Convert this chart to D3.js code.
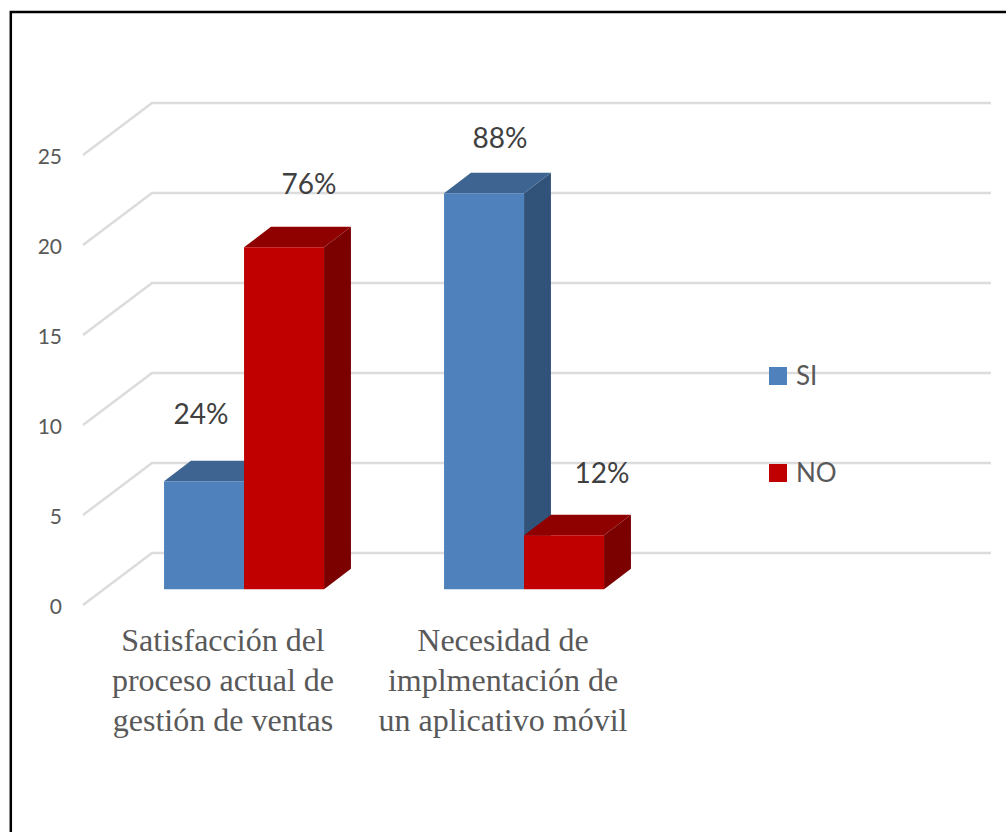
<!DOCTYPE html>
<html>
<head>
<meta charset="utf-8">
<script src="https://cdn.jsdelivr.net/npm/d3@7"></script>
<style>
  html, body { margin: 0; padding: 0; background: #fff; }
  svg { display: block; }
  .tick text { font-family: Lato, sans-serif; font-size: 21px; fill: #595959; }
  .cat-label { font-family: "Liberation Serif", serif; font-size: 32px; fill: #595959; text-anchor: middle; }
  .data-label { font-family: Lato, sans-serif; font-size: 28px; fill: #404040; text-anchor: middle; }
  .legend-label { font-family: Lato, sans-serif; font-size: 26px; fill: #595959; }
</style>
</head>
<body>
<svg id="chart" width="1006" height="832"></svg>
<script>
const categories = ["Satisfacción del proceso actual de gestión de ventas", "Necesidad de implmentación de un aplicativo móvil", ""];
const categoryLines = [
    ["Satisfacción del", "proceso actual de", "gestión de ventas"],
    ["Necesidad de", "implmentación de", "un aplicativo móvil"]
];
const seriesNames = ["SI", "NO"];
const siValues = [6, 22];
const noValues = [19, 3];
const siLabels = ["24%", "88%"];
const noLabels = ["76%", "12%"];
const yTicks = [0, 5, 10, 15, 20, 25];

const colors = {
    SI: { front: "#4f81bd", top: "#3e6491", side: "#325379" },
    NO: { front: "#c00000", top: "#8f0000", side: "#7b0000" }
};

const svg = d3.select("#chart");

// depth of the floor, going from the front edge to the back wall
const depthX = 69, depthY = -52;
const barFront = 0.305, barBack = 0.695;

const x = d3.scaleBand().domain(categories).range([83, 923]);
const xSeries = d3.scaleBand().domain(seriesNames).range([60, 220]);
const y = d3.scaleLinear().domain([0, 25]).range([605, 155]);

const project = (px, py, z) => [px + depthX * z, py + depthY * z];
const poly = pts => pts.map(p => p.join(",")).join(" ");

// frame (only top and left are visible in the picture)
svg.append("path")
    .attr("d", d3.line()([[10.8, 832], [10.8, 12], [1006, 12]]))
    .attr("fill", "none")
    .attr("stroke", "#000")
    .attr("stroke-width", 2.5);

// grid: floor/side diagonal + back wall line
const grid = svg.append("g");
yTicks.forEach(t => {
    const a = project(83, y(t), 0), b = project(83, y(t), 1), c = [991, b[1]];
    grid.append("polyline")
        .attr("points", poly([a, b, c]))
        .attr("fill", "none")
        .attr("stroke", "#dcdcdc")
        .attr("stroke-width", 2.5);
});

// bars
const rows = [];
categoryLines.forEach((_, i) => {
    rows.push({ cat: categories[i], name: "SI", value: siValues[i], label: siLabels[i] });
    rows.push({ cat: categories[i], name: "NO", value: noValues[i], label: noLabels[i] });
});

const bars = svg.append("g").selectAll("g")
    .data(rows)
    .enter().append("g");

bars.each(function(d) {
    const g = d3.select(this);
    const x0 = x(d.cat) + xSeries(d.name), x1 = x0 + xSeries.bandwidth();
    const yb = y(0), yt = y(d.value);
    const fbl = project(x0, yb, barFront), fbr = project(x1, yb, barFront);
    const ftl = project(x0, yt, barFront), ftr = project(x1, yt, barFront);
    const bbr = project(x1, yb, barBack), btr = project(x1, yt, barBack), btl = project(x0, yt, barBack);
    g.append("polygon").attr("points", poly([fbr, ftr, btr, bbr])).attr("fill", colors[d.name].side);
    g.append("polygon").attr("points", poly([ftl, ftr, btr, btl])).attr("fill", colors[d.name].top);
    g.append("polygon").attr("points", poly([fbl, fbr, ftr, ftl])).attr("fill", colors[d.name].front);
});

// y axis labels
svg.append("g")
    .attr("transform", "translate(62,1.5)")
    .call(d3.axisLeft(y).tickValues(yTicks).tickSize(0).tickPadding(0))
    .call(s => s.select(".domain").remove());

// category labels
categoryLines.forEach((lines, i) => {
    const cx = x(categories[i]) + x.bandwidth() / 2;
    const text = svg.append("text").attr("class", "cat-label");
    lines.forEach((l, j) => {
        text.append("tspan").attr("x", cx).attr("y", 651 + j * 40).text(l);
    });
});

// the percentage labels were placed by hand in the original
const labelNudge = [[-3, -57], [25, -53], [16, -45], [38, -52]];
rows.forEach((d, i) => {
    const x0 = x(d.cat) + xSeries(d.name);
    const p = project(x0 + xSeries.bandwidth() / 2, y(d.value), barFront);
    svg.append("text")
        .attr("class", "data-label")
        .attr("x", p[0] + labelNudge[i][0])
        .attr("y", p[1] + labelNudge[i][1])
        .text(d.label);
});

// legend
const legend = svg.append("g").selectAll("g")
    .data(seriesNames)
    .enter().append("g")
    .attr("transform", (d, i) => `translate(769,${367 + i * 97})`);

legend.append("rect")
    .attr("width", 18)
    .attr("height", 18)
    .attr("fill", d => colors[d].front);

legend.append("text")
    .attr("class", "legend-label")
    .attr("x", 27)
    .attr("y", 18)
    .text(d => d);
</script>
</body>
</html>
